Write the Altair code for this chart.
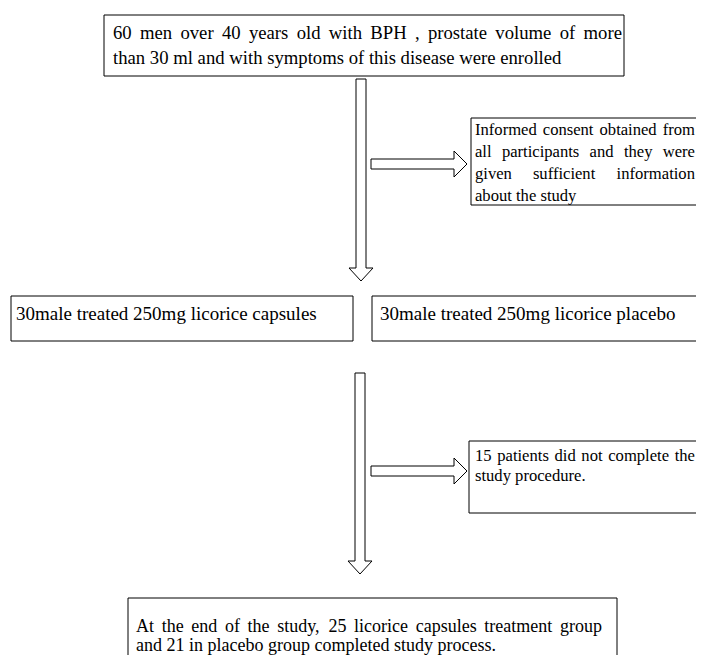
import altair as alt
import pandas as pd

# ---------------- text content ----------------
box_texts = [
    ["60 men over 40 years old with BPH , prostate volume of more",
     "than 30 ml and with symptoms of this disease were enrolled"],
    ["Informed consent obtained from",
     "all participants and they were",
     "given sufficient information",
     "about the study"],
    ["30male treated 250mg licorice capsules"],
    ["30male treated 250mg licorice placebo"],
    ["15 patients did not complete the",
     "study procedure."],
    ["At the end of the study, 25 licorice capsules treatment group",
     "and 21 in placebo group completed study process."],
]
# which lines are justified (word-spaced to the right text edge)
justify = [[True, False], [True, True, True, False], [False], [False],
           [True, False], [True, False]]

# ---------------- layout (reference pixel frame 704x655) ----------------
box_x1 = [104, 471, 11, 372, 469, 128]
box_x2 = [624, 712, 353, 712, 712, 617]
box_y1 = [15, 118, 296, 296, 441, 598]
box_y2 = [76, 205, 341, 341, 513, 670]
text_left = [113, 475, 16, 380, 475, 136]
text_right = [622, 695, 345, 700, 695, 602]
text_y0 = [33, 130, 314, 314, 456, 627]
line_gap = [25, 22, 0, 0, 20, 19]
font_px = [18.7, 16.6, 19, 19, 16.6, 18]

# block arrows: vertical -> (centre x, top y, tip y); horizontal -> (centre y, left x, tip x)
arrows = [("v", 361, 79, 281), ("h", 164, 371, 467),
          ("v", 360, 373, 574), ("h", 471, 371, 467)]
SHAFT, HEAD, HEAD_LEN = 5, 12, 13

# Times / Liberation Serif advance widths (1/1000 em)
W = {' ': 250, ',': 250, '.': 250}
W.update({d: 500 for d in '0123456789'})
W.update(dict(zip('ABCDEFGHIJKLMNOPQRSTUVWXYZ',
                  [722, 667, 667, 722, 611, 556, 722, 722, 333, 389, 722, 611, 889,
                   722, 722, 556, 722, 667, 556, 611, 722, 722, 944, 722, 722, 611])))
W.update(dict(zip('abcdefghijklmnopqrstuvwxyz',
                  [444, 500, 444, 500, 444, 333, 500, 500, 278, 278, 500, 278, 778,
                   500, 500, 500, 500, 333, 389, 278, 500, 500, 722, 500, 500, 444])))


def tw(s, fs):
    return sum(W.get(c, 500) for c in s) / 1000.0 * fs


# chart pixel frame: plot area starts at page (8, 8)
CW, CH = 688, 647
OX, OY = 8, 8

rects = pd.DataFrame({"x": box_x1, "x2": box_x2, "y": box_y1, "y2": box_y2})

rows = []
for i, lines in enumerate(box_texts):
    fs = font_px[i]
    for j, line in enumerate(lines):
        y = text_y0[i] + j * line_gap[i]
        words = line.split(" ")
        if justify[i][j] and len(words) > 1:
            total = sum(tw(w, fs) for w in words)
            gap = (text_right[i] - text_left[i] - total) / (len(words) - 1)
            x = text_left[i]
            for w in words:
                rows.append({"x": x, "y": y, "t": w, "fs": fs})
                x += tw(w, fs) + gap
        else:
            rows.append({"x": text_left[i], "y": y, "t": line, "fs": fs})
texts = pd.DataFrame(rows)

pts = []
for k, (kind, c, s0, e) in enumerate(arrows):
    hb = e - HEAD_LEN
    if kind == "v":
        poly = [(c - SHAFT, s0), (c + SHAFT, s0), (c + SHAFT, hb), (c + HEAD, hb), (c, e),
                (c - HEAD, hb), (c - SHAFT, hb), (c - SHAFT, s0)]
    else:
        poly = [(s0, c - SHAFT), (hb, c - SHAFT), (hb, c - HEAD - 1), (e, c),
                (hb, c + HEAD + 1), (hb, c + SHAFT), (s0, c + SHAFT), (s0, c - SHAFT)]
    for o, (px, py) in enumerate(poly):
        pts.append({"id": k, "o": o, "x": px, "y": py})
arr = pd.DataFrame(pts)

xs = alt.Scale(domain=[OX, OX + CW], range=[0, CW], nice=False, zero=False)
ys = alt.Scale(domain=[OY, OY + CH], range=[0, CH], nice=False, zero=False)


def X(f):
    return alt.X(f, type="quantitative", scale=xs, axis=None)


def Y(f):
    return alt.Y(f, type="quantitative", scale=ys, axis=None)


box_layer = alt.Chart(rects).mark_rect(fill="white", stroke="black", strokeWidth=1).encode(
    x=X("x"), x2="x2", y=Y("y"), y2="y2")

arrow_layer = alt.Chart(arr).mark_line(color="black", strokeWidth=1).encode(
    x=X("x"), y=Y("y"), detail="id:N", order="o:Q")

text_layer = alt.Chart(texts).mark_text(
    align="left", baseline="middle", font="Liberation Serif", color="black").encode(
    x=X("x"), y=Y("y"), text="t:N", size=alt.Size("fs:Q", scale=None, legend=None))

chart = alt.layer(box_layer, arrow_layer, text_layer).properties(
    width=CW, height=CH, padding=0, autosize=alt.AutoSizeParams(type="none")
).configure_view(stroke=None)

chart.save("out.html", embed_options={"renderer": "svg", "actions": False})
